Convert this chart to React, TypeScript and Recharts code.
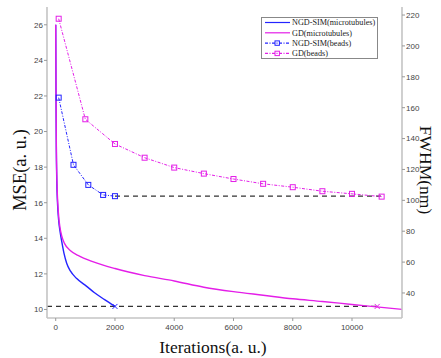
import React from 'react';
import { ComposedChart, Line, Scatter, XAxis, YAxis } from 'recharts';

// ---- data ----
const iterNgdMicro = [0, 10, 20, 35, 60, 100, 145, 200, 280, 370, 500, 700, 1045, 1300, 1650, 2000];
const mseNgdMicro = [26, 22.0, 19.2, 17.3, 16.0, 15.0, 14.4, 13.85, 13.15, 12.6, 12.15, 11.75, 11.3, 10.95, 10.55, 10.17];

const iterGdMicro = [0, 10, 20, 40, 90, 150, 200, 300, 500, 800, 1200, 2000, 3000, 4000, 5000, 6000, 7000, 8000, 9000, 10000, 11000, 11700];
const mseGdMicro = [26, 22.5, 19.5, 17.3, 15.45, 14.55, 14.15, 13.7, 13.3, 13.0, 12.72, 12.3, 11.9, 11.6, 11.25, 11.0, 10.8, 10.6, 10.45, 10.28, 10.12, 10.0];

const iterNgdBeads = [100, 600, 1100, 1600, 2000];
const fwhmNgdBeads = [166.5, 123, 110, 103.5, 102.7];

const iterGdBeads = [100, 1000, 2000, 3000, 4000, 5000, 6000, 7000, 8000, 9000, 10000, 11000];
const fwhmGdBeads = [217.6, 152.5, 136.5, 127.6, 121.2, 117.3, 113.8, 110.7, 108.5, 105.9, 104.2, 102.4];

const mseRefIter = [-294, 10850];
const mseRefValue = [10.17, 10.17];
const fwhmRefIter = [2000, 11000];
const fwhmRefValue = [102.7, 102.7];

const xTicks = [0, 2000, 4000, 6000, 8000, 10000];
const leftTicks = [10, 12, 14, 16, 18, 20, 22, 24, 26];
const rightTicks = [40, 60, 80, 100, 120, 140, 160, 180, 200, 220];

const legendNames = ['NGD-SIM(microtubules)', 'GD(microtubules)', 'NGD-SIM(beads)', 'GD(beads)'];

const BLUE = '#2424ff';
const MAG = '#e41ee8';

const zip = (xs: number[], ys: number[]) => xs.map((x, i) => ({ x, y: ys[i] }));

const ngdMicro = zip(iterNgdMicro, mseNgdMicro);
const gdMicro = zip(iterGdMicro, mseGdMicro);
const ngdBeads = zip(iterNgdBeads, fwhmNgdBeads);
const gdBeads = zip(iterGdBeads, fwhmGdBeads);
const mseRef = zip(mseRefIter, mseRefValue);
const fwhmRef = zip(fwhmRefIter, fwhmRefValue);
const ngdMark = [{ x: iterNgdMicro[iterNgdMicro.length - 1], y: mseRefValue[0] }];
const gdMark = [{ x: mseRefIter[1], y: mseRefValue[1] }];

const serif = '"Liberation Serif", "Times New Roman", serif';
const sans = '"Liberation Sans", Arial, sans-serif';

const squareDot = (color: string) => (props: any) => {
  const { cx, cy, key } = props;
  if (cx == null || cy == null) return <g key={key} />;
  return <rect key={key} x={cx - 2.5} y={cy - 2.5} width={5} height={5} fill="none" stroke={color} strokeWidth={1} />;
};

const crossShape = (color: string) => (props: any) => {
  const { cx, cy } = props;
  return <path d={`M${cx - 2.5},${cy - 2.5}L${cx + 2.5},${cy + 2.5}M${cx - 2.5},${cy + 2.5}L${cx + 2.5},${cy - 2.5}`} stroke={color} strokeWidth={1} fill="none" />;
};

const MseLabel = () => (
  <text x={26} y={170} transform="rotate(-90 26 170)" textAnchor="middle" fontFamily={serif} fontSize={18.5} fill="#111">
    MSE(a. u.)
  </text>
);
const FwhmLabel = () => (
  <text x={420} y={170} transform="rotate(90 420 170)" textAnchor="middle" fontFamily={serif} fontSize={17.5} fill="#111">
    FWHM(nm)
  </text>
);
const IterLabel = () => (
  <text x={213} y={353} textAnchor="middle" fontFamily={serif} fontSize={17.5} fill="#111">
    Iterations(a. u.)
  </text>
);

const LegendBox = () => {
  const rows = [
    { color: BLUE, dash: undefined, marker: false },
    { color: MAG, dash: undefined, marker: false },
    { color: BLUE, dash: '3 1.5 1 1.5', marker: true },
    { color: MAG, dash: '3 1.5 1 1.5', marker: true },
  ];
  return (
    <div style={{ position: 'absolute', left: 261, top: 17, width: 117, height: 42, border: '1px solid #888', background: '#fff', boxSizing: 'border-box' }}>
      <svg width={117} height={42} style={{ position: 'absolute', left: -1, top: -1 }}>
        {rows.map((r, i) => {
          const y = 5.5 + i * 10.3;
          return (
            <g key={i}>
              <line x1={4} x2={29} y1={y} y2={y} stroke={r.color} strokeWidth={1.2} strokeDasharray={r.dash} />
              {r.marker && <rect x={14} y={y - 2.2} width={4.4} height={4.4} fill="none" stroke={r.color} strokeWidth={1} />}
              <text x={31} y={y + 2.8} fontFamily={serif} fontSize={8.2} fill="#222">
                {legendNames[i]}
              </text>
            </g>
          );
        })}
      </svg>
    </div>
  );
};

export default function App() {
  return (
    <div style={{ position: 'absolute', left: 0, top: 0, width: 441, height: 358, background: '#fff' }}>
      <ComposedChart width={441} height={358} margin={{ top: 7, right: 0, bottom: 0, left: 0 }}>
        <XAxis
          dataKey="x"
          type="number"
          domain={[-294, 11687]}
          allowDataOverflow
          ticks={xTicks}
          height={40}
          axisLine={{ stroke: '#c4c4c4', strokeWidth: 1.6 }}
          tickLine={{ stroke: '#999' }}
          tickSize={3}
          tickMargin={3}
          tick={{ fill: '#444', fontSize: 8, fontFamily: sans }}
          label={<IterLabel />}
        />
        <YAxis
          yAxisId="left"
          type="number"
          domain={[9.52, 27.0]}
          allowDataOverflow
          ticks={leftTicks}
          width={47}
          axisLine={{ stroke: '#c4c4c4', strokeWidth: 1.6 }}
          tickLine={{ stroke: '#999' }}
          tickSize={3}
          tickMargin={1}
          tick={{ fill: '#444', fontSize: 8, fontFamily: sans }}
          label={<MseLabel />}
        />
        <YAxis
          yAxisId="right"
          orientation="right"
          type="number"
          domain={[23.8, 225.2]}
          allowDataOverflow
          ticks={rightTicks}
          width={39}
          axisLine={{ stroke: '#c4c4c4', strokeWidth: 1.6 }}
          tickLine={{ stroke: '#999' }}
          tickSize={3}
          tickMargin={1}
          tick={{ fill: '#444', fontSize: 8, fontFamily: sans }}
          label={<FwhmLabel />}
        />
        <Line yAxisId="left" data={mseRef} dataKey="y" type="linear" stroke="#333" strokeWidth={1.3} strokeDasharray="5 4" dot={false} isAnimationActive={false} />
        <Line yAxisId="right" data={fwhmRef} dataKey="y" type="linear" stroke="#333" strokeWidth={1.3} strokeDasharray="5 4" dot={false} isAnimationActive={false} />
        <Line yAxisId="left" data={ngdMicro} dataKey="y" type="monotone" stroke={BLUE} strokeWidth={1.4} dot={false} isAnimationActive={false} />
        <Line yAxisId="left" data={gdMicro} dataKey="y" type="monotone" stroke={MAG} strokeWidth={1.4} dot={false} isAnimationActive={false} />
        <Line yAxisId="right" data={ngdBeads} dataKey="y" type="linear" stroke={BLUE} strokeWidth={1} strokeDasharray="3 1.5 1 1.5" dot={squareDot(BLUE)} isAnimationActive={false} />
        <Line yAxisId="right" data={gdBeads} dataKey="y" type="linear" stroke={MAG} strokeWidth={1} strokeDasharray="3 1.5 1 1.5" dot={squareDot(MAG)} isAnimationActive={false} />
        <Scatter yAxisId="left" data={ngdMark} dataKey="y" shape={crossShape(BLUE)} isAnimationActive={false} />
        <Scatter yAxisId="left" data={gdMark} dataKey="y" shape={crossShape(MAG)} isAnimationActive={false} />
      </ComposedChart>
      <LegendBox />
    </div>
  );
}
